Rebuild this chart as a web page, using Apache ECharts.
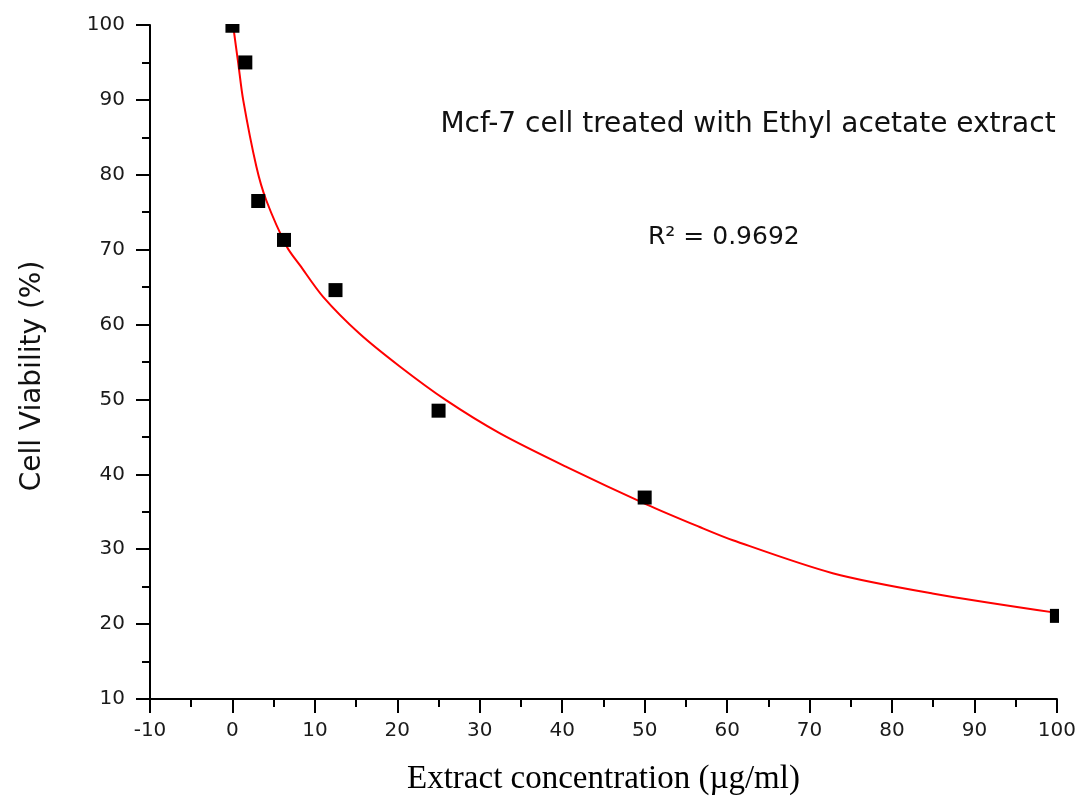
<!DOCTYPE html>
<html lang="en">
<head>
    <meta charset="UTF-8">
    <title>Mcf-7 cell viability</title>
    <script src="https://cdn.jsdelivr.net/npm/echarts@6.0.0/dist/echarts.min.js"></script>
    <style>
        html, body {
            margin: 0;
            padding: 0;
            background-color: #ffffff;
        }
        #chart {
            width: 1079px;
            height: 801px;
        }
    </style>
</head>
<body>
    <div id="chart"></div>

    <script>
        // measured points (extract concentration, viability %)
        const concX = [0, 1.5625, 3.125, 6.25, 12.5, 25, 50, 100];
        const viability = [99.9, 95.0, 76.5, 71.3, 64.6, 48.5, 36.9, 21.1];

        // fitted curve
        const fitX = [0.1, 0.7, 1.3, 2.9, 4.1, 6.6, 8.2, 11.0, 15.4, 20.3, 25.9, 32.4, 40.5, 50.2, 56.6, 60.7, 72.8, 84.9, 100];
        const fitY = [99.8, 94.9, 90.0, 81.1, 76.6, 70.4, 67.9, 63.7, 58.8, 54.4, 49.9, 45.5, 41.0, 36.0, 33.0, 31.2, 26.8, 24.1, 21.5];

        const titleText = 'Mcf-7 cell treated with Ethyl acetate extract';
        const r2Text = 'R\u00B2 = 0.9692';
        const xName = 'Extract concentration (\u00B5g/ml)';
        const yName = 'Cell Viability (%)';

        const chart = echarts.init(document.getElementById('chart'));

        const axisCommon = {
            type: 'value',
            interval: 10,
            splitLine: { show: false },
            axisLine: { show: true, onZero: false, lineStyle: { color: '#000', width: 2 } },
            axisTick: { show: true, inside: false, length: 14, lineStyle: { color: '#000', width: 2 } },
            minorTick: { show: true, splitNumber: 2, length: 8, lineStyle: { color: '#000', width: 2 } },
            axisLabel: {
                color: '#1a1a1a',
                fontFamily: 'DejaVu Sans',
                fontSize: 20
            }
        };

        const option = {
            backgroundColor: '#ffffff',
            animation: false,
            grid: { left: 150, right: 21, top: 25, bottom: 102, containLabel: false },
            xAxis: Object.assign({}, axisCommon, {
                min: -10,
                max: 100,
                name: xName,
                nameLocation: 'middle',
                nameGap: 64,
                nameTextStyle: {
                    fontFamily: 'Liberation Serif',
                    fontSize: 33,
                    color: '#000'
                },
                axisLabel: Object.assign({}, axisCommon.axisLabel, { margin: 22 })
            }),
            yAxis: Object.assign({}, axisCommon, {
                min: 10,
                max: 100,
                axisLabel: Object.assign({}, axisCommon.axisLabel, { margin: 25 })
            }),
            series: [
                {
                    name: 'fit',
                    type: 'line',
                    data: fitX.map((x, i) => [x, fitY[i]]),
                    smooth: 0.3,
                    showSymbol: false,
                    lineStyle: { color: '#ff0000', width: 2 },
                    z: 3
                },
                {
                    name: 'data',
                    type: 'scatter',
                    data: concX.map((x, i) => [x, viability[i]]),
                    symbol: 'rect',
                    symbolSize: 14,
                    itemStyle: { color: '#000', opacity: 1 },
                    z: 4
                }
            ],
            graphic: [
                // blank out marker parts that spill past the plot frame
                {
                    type: 'rect',
                    shape: { x: 152, y: 0, width: 927, height: 24 },
                    style: { fill: '#fff' },
                    z: 50
                },
                {
                    type: 'rect',
                    shape: { x: 1059, y: 0, width: 20, height: 697 },
                    style: { fill: '#fff' },
                    z: 50
                },
                {
                    type: 'text',
                    x: 748,
                    y: 125,
                    z: 60,
                    style: {
                        text: titleText,
                        font: '28px "DejaVu Sans"',
                        fill: '#111',
                        align: 'center',
                        textAlign: 'center',
                        verticalAlign: 'middle',
                        textVerticalAlign: 'middle'
                    }
                },
                {
                    type: 'text',
                    x: 648,
                    y: 237,
                    z: 60,
                    style: {
                        text: r2Text,
                        font: '25px "DejaVu Sans"',
                        fill: '#111',
                        align: 'left',
                        textAlign: 'left',
                        verticalAlign: 'middle',
                        textVerticalAlign: 'middle'
                    }
                },
                {
                    type: 'text',
                    x: 33,
                    y: 376,
                    rotation: Math.PI / 2,
                    z: 60,
                    style: {
                        text: yName,
                        font: '28px "DejaVu Sans"',
                        fill: '#111',
                        align: 'center',
                        textAlign: 'center',
                        verticalAlign: 'middle',
                        textVerticalAlign: 'middle'
                    }
                }
            ]
        };

        chart.setOption(option);

        window.addEventListener('resize', function () {
            chart.resize();
        });
    </script>
</body>
</html>
